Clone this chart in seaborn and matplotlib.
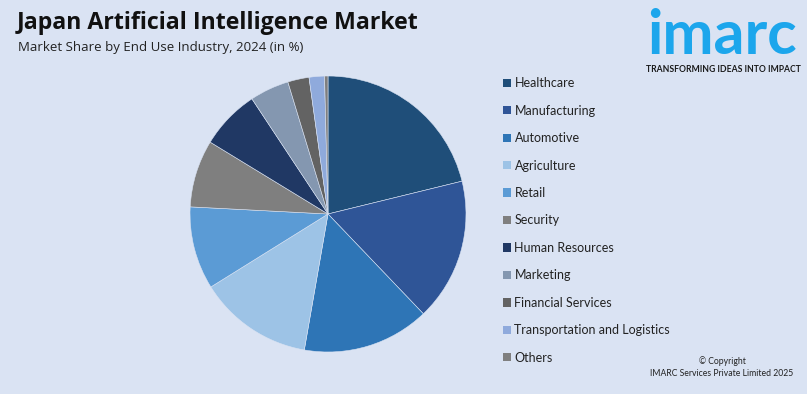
import matplotlib
matplotlib.use("Agg")
import matplotlib.pyplot as plt
import seaborn as sns
from matplotlib.patches import Patch

# values (share %, 2024)
industries = ["Healthcare", "Manufacturing", "Automotive", "Agriculture", "Retail",
              "Security", "Human Resources", "Marketing", "Financial Services",
              "Transportation and Logistics", "Others"]
shares = [21.2, 16.7, 14.9, 13.4, 9.7, 7.9, 7.0, 4.6, 2.5, 1.8, 0.4]
colors = ["#1f4e79", "#2f5597", "#2e75b6", "#9dc3e6", "#5b9bd5", "#7f7f7f",
          "#203864", "#8497b0", "#636363", "#8faadc", "#7f7f7f"]

bg = "#dae3f3"
sns.set_theme(style="white")
plt.rcParams["font.family"] = ["Lato", "DejaVu Sans"]

W, H = 807, 394
fig = plt.figure(figsize=(W / 100, H / 100), dpi=100, facecolor=bg)

# pie: centre (328, 214) px, radius 138 px
cx, cy, r = 328, 214, 138
ax = fig.add_axes([(cx - r) / W, (H - cy - r) / H, 2 * r / W, 2 * r / H])
ax.set_facecolor(bg)
ax.pie(shares, colors=colors, startangle=90, counterclock=False,
       wedgeprops=dict(linewidth=0.4, edgecolor="#dae3f3"))
ax.set_xlim(-1, 1)
ax.set_ylim(-1, 1)
ax.set_aspect("equal")
ax.axis("off")

handles = [Patch(facecolor=c, edgecolor="none") for c in colors]
fig.legend(handles, industries, loc="upper left",
           bbox_to_anchor=(497 / W, 1 - 71 / H), frameon=False,
           fontsize=9, handlelength=0.65, handleheight=0.65,
           handletextpad=0.25, labelspacing=1.235, borderpad=0,
           labelcolor="#222222")

# titles
fig.text(17 / W, 1 - 23 / H, "Japan Artificial Intelligence Market",
         fontsize=16.7, fontweight="bold", color="#111111", va="center",
         family="Open Sans")
fig.text(18 / W, 1 - 47 / H, "Market Share by End Use Industry, 2024 (in %)",
         fontsize=9.5, color="#222222", va="center", family="Open Sans")

# logo
fig.text(722 / W, 1 - 36 / H, "imarc", fontsize=44, fontweight="bold",
         color="#1ca6ec", ha="center", va="center")
fig.text(723 / W, 1 - 70 / H, "TRANSFORMING IDEAS INTO IMPACT", fontsize=6.2,
         fontweight="bold", color="#1a1a1a", ha="center", va="center")

# copyright
fig.text(722 / W, 1 - 361 / H, "© Copyright", fontsize=6.2,
         color="#222222", ha="center", va="center")
fig.text(722 / W, 1 - 373 / H, "IMARC Services Private Limited 2025",
         fontsize=6.2, color="#222222", ha="center", va="center")

fig.savefig("out.png", dpi=100, facecolor=bg)
